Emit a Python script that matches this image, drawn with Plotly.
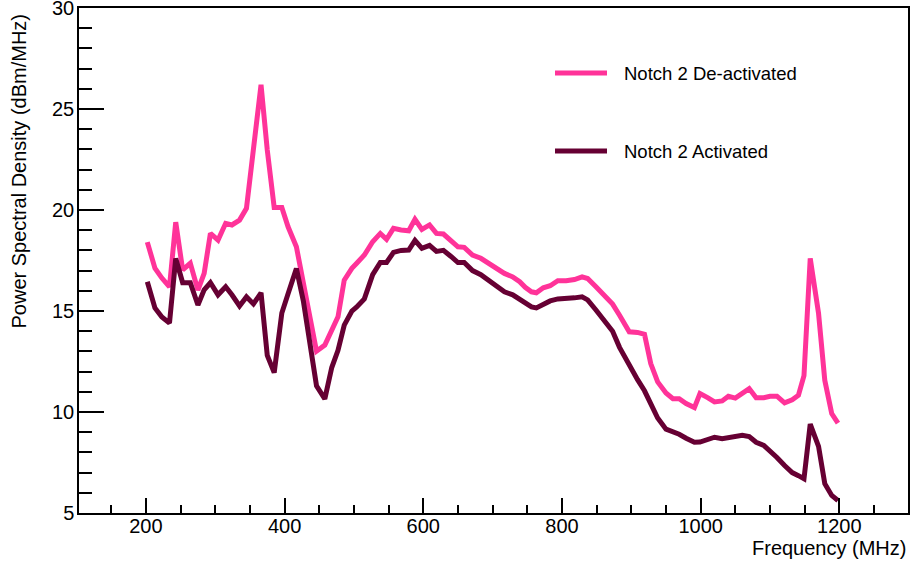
import plotly.graph_objects as go

# ---------------- data ----------------
freq_mhz = [202, 213, 223, 234, 243, 253, 264, 275, 284, 293, 304, 315, 324, 335, 345, 355,
            366, 375, 385, 396, 405, 417, 427, 437, 446, 458, 468, 477, 486, 497, 504, 515,
            527, 538, 547, 557, 568, 579, 588, 598, 609, 619, 629, 640, 650, 659, 671, 683,
            695, 707, 717, 729, 739, 747, 756, 763, 773, 783, 794, 806, 818, 829, 837, 849,
            861, 873, 883, 897, 909, 919, 928, 938, 950, 960, 969, 979, 991, 999, 1010, 1020,
            1031, 1040, 1050, 1060, 1070, 1080, 1091, 1100, 1110, 1121, 1132, 1141, 1149, 1158,
            1170, 1179, 1189, 1198]

psd_deactivated = [18.41, 17.12, 16.63, 16.20, 19.40, 17.03, 17.36, 16.03, 16.86, 18.84, 18.51, 19.34,
                   19.26, 19.50, 20.08, 23.10, 26.20, 22.97, 20.12, 20.12, 19.17, 18.18, 16.37, 14.71,
                   13.01, 13.31, 14.05, 14.71, 16.53, 17.11, 17.36, 17.77, 18.43, 18.84, 18.55, 19.09,
                   19.01, 18.97, 19.54, 19.04, 19.26, 18.84, 18.81, 18.51, 18.18, 18.15, 17.77, 17.61,
                   17.36, 17.11, 16.86, 16.69, 16.45, 16.17, 15.95, 15.90, 16.15, 16.25, 16.50, 16.50,
                   16.56, 16.69, 16.61, 16.20, 15.74, 15.34, 14.79, 13.97, 13.94, 13.85, 12.40, 11.49,
                   10.94, 10.66, 10.66, 10.42, 10.22, 10.91, 10.71, 10.50, 10.55, 10.78, 10.69, 10.91,
                   11.16, 10.71, 10.71, 10.78, 10.78, 10.45, 10.61, 10.83, 11.80, 17.60, 14.88, 11.57,
                   9.92, 9.45]

psd_activated = [16.45, 15.15, 14.70, 14.40, 17.60, 16.40, 16.40, 15.30, 16.05, 16.40, 15.80, 16.20,
                 15.80, 15.25, 15.70, 15.35, 15.90, 12.80, 11.95, 14.90, 15.85, 17.10, 15.50, 13.20,
                 11.30, 10.65, 12.20, 13.05, 14.30, 15.00, 15.20, 15.60, 16.80, 17.40, 17.40, 17.90,
                 18.00, 18.02, 18.50, 18.10, 18.25, 17.95, 18.00, 17.70, 17.40, 17.40, 17.00, 16.80,
                 16.50, 16.20, 15.95, 15.80, 15.55, 15.35, 15.20, 15.15, 15.35, 15.50, 15.60, 15.60,
                 15.65, 15.70, 15.55, 15.05, 14.50, 14.00, 13.20, 12.30, 11.60, 11.05, 10.35, 9.70,
                 9.15, 9.05, 8.90, 8.70, 8.50, 8.51, 8.65, 8.75, 8.68, 8.75, 8.82, 8.85,
                 8.78, 8.50, 8.35, 8.10, 7.75, 7.35, 7.00, 6.85, 6.70, 9.40, 8.30, 6.45,
                 5.87, 5.62]

series_names = ["Notch 2 De-activated", "Notch 2 Activated"]
x_tick_values = [200, 400, 600, 800, 1000, 1200]
y_tick_values = [5, 10, 15, 20, 25, 30]

# ---------------- style ----------------
PINK = "#ff3399"
DARK = "#660033"
FONT = "Liberation Sans, Arial, Helvetica, sans-serif"
W, H = 911, 563
ML, MR, MT, MB = 79, 3, 8, 50
PW, PH = W - ML - MR, H - MT - MB


def px_x(p):
    return (p - ML) / PW


def px_y(p):
    return (H - MB - p) / PH


fig = go.Figure()
fig.add_trace(go.Scatter(x=freq_mhz, y=psd_deactivated, mode="lines", name=series_names[0],
                         line=dict(color=PINK, width=5), showlegend=False))
fig.add_trace(go.Scatter(x=freq_mhz, y=psd_activated, mode="lines", name=series_names[1],
                         line=dict(color=DARK, width=5), showlegend=False))

fig.update_layout(
    width=W, height=H,
    margin=dict(l=ML, r=MR, t=MT, b=MB, pad=0, autoexpand=False),
    paper_bgcolor="white", plot_bgcolor="white",
    font=dict(family=FONT, size=20, color="black"),
    showlegend=False,
)

fig.update_xaxes(
    range=[103.5, 1299], tickvals=x_tick_values, ticktext=[str(v) for v in x_tick_values],
    ticks="inside", ticklen=15, tickwidth=1.5, tickcolor="black",
    showline=True, linecolor="black", linewidth=1.5, mirror=True,
    showgrid=False, zeroline=False, ticklabelstandoff=-6, automargin=False,
    ticklabeloverflow="allow",
    tickfont=dict(family=FONT, size=20, color="black"),
    minor=dict(ticks="inside", ticklen=8, tickwidth=1.5, tickcolor="black",
               dtick=50, tick0=0, showgrid=False),
)
fig.update_yaxes(
    range=[5, 30], tickvals=y_tick_values, ticktext=[str(v) for v in y_tick_values],
    ticks="inside", ticklen=25, tickwidth=1.5, tickcolor="black",
    showline=True, linecolor="black", linewidth=1.5, mirror=True,
    showgrid=False, zeroline=False, ticklabelstandoff=-1, automargin=False,
    ticklabeloverflow="allow",
    tickfont=dict(family=FONT, size=20, color="black"),
    minor=dict(ticks="inside", ticklen=13, tickwidth=1.5, tickcolor="black",
               dtick=1, tick0=0, showgrid=False),
)

# axis titles (ROOT style: right / top aligned)
fig.add_annotation(text="Frequency (MHz)", xref="paper", yref="paper",
                   x=1.0, y=px_y(548), xanchor="right", yanchor="middle",
                   showarrow=False, font=dict(family=FONT, size=20, color="black"))
fig.add_annotation(text="Power Spectral Density (dBm/MHz)", xref="paper", yref="paper",
                   x=px_x(18), y=px_y(12), xanchor="center", yanchor="top", textangle=-90,
                   showarrow=False, font=dict(family=FONT, size=20, color="black"))

# legend drawn by hand
legend_rows = [(series_names[0], PINK, 73), (series_names[1], DARK, 151)]
for label, color, ypix in legend_rows:
    fig.add_shape(type="line", xref="paper", yref="paper",
                  x0=px_x(555), x1=px_x(607), y0=px_y(ypix), y1=px_y(ypix),
                  line=dict(color=color, width=5))
    fig.add_annotation(text=label, xref="paper", yref="paper",
                       x=px_x(622), y=px_y(ypix), xanchor="left", yanchor="middle",
                       showarrow=False, font=dict(family=FONT, size=18.5, color="black"))

fig.write_html("out.html",
               config={"displayModeBar": False},
               post_script="document.body.style.margin='0px';"
                           "document.body.style.overflow='hidden';")
